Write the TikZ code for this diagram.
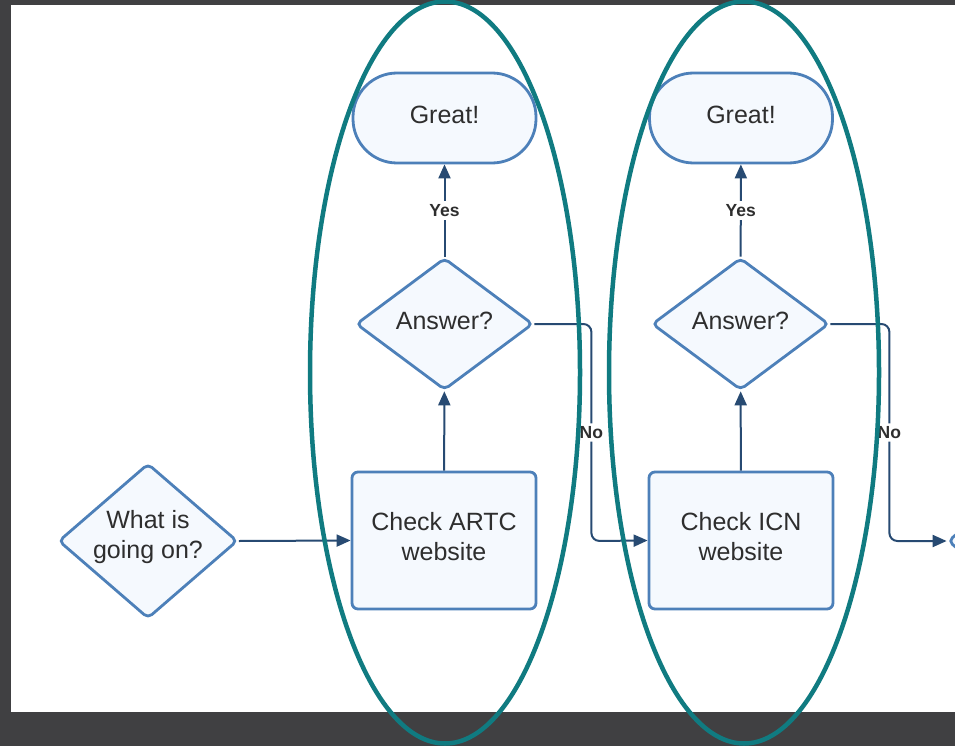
\documentclass[tikz,border=0pt]{standalone}
\usepackage{fontspec}
\setmainfont{Liberation Sans}
\usetikzlibrary{shapes.geometric,arrows.meta}
\definecolor{bgdark}{HTML}{404042}
\definecolor{shapefill}{HTML}{F5F9FE}
\definecolor{shapeline}{HTML}{4D80B9}
\definecolor{arrowcol}{HTML}{274A72}
\definecolor{txt}{HTML}{2E2E2E}
\definecolor{tealring}{HTML}{107B81}
\tikzset{
  shp/.style={draw=shapeline, fill=shapefill, line width=2.8pt, inner sep=0pt},
  dia/.style={shp, shape=diamond, rounded corners=5pt},
  whatsize/.style={minimum width=179pt, minimum height=155pt},
  anssize/.style={minimum width=177pt, minimum height=132pt},
  boxnode/.style={shp, rectangle, rounded corners=6pt, minimum width=184pt, minimum height=137pt},
  term/.style={shp, rectangle, rounded corners=44pt, minimum width=183pt, minimum height=90pt},
  txtnode/.style={text=txt, align=center, inner sep=0pt, font=\fontsize{25}{30}\selectfont},
  arr/.style={draw=arrowcol, line width=2pt, -{Triangle[length=14pt,width=12pt]}},
  lbl/.style={fill=white, text=txt, font=\fontsize{17.5}{20}\selectfont\bfseries, inner sep=3pt},
  ring/.style={draw=tealring, line width=4.5pt}
}
\begin{document}
\begin{tikzpicture}[x=1pt,y=-1pt]
\fill[bgdark] (0,0) rectangle (955,746);
\useasboundingbox (0,0) rectangle (955,746);
\clip (0,0) rectangle (955,746);
\fill[white] (11,5) rectangle (955,712);

% first column
\node[dia, whatsize] (what) at (148,541) {};
\node[boxnode] (artc) at (444,540.5) {};
\node[dia, anssize] (ans1) at (444.5,324) {};
\node[term] (great1) at (444.5,118) {};

% second column
\node[boxnode] (icn) at (741,540.5) {};
\node[dia, anssize] (ans2) at (740.5,324) {};
\node[term] (great2) at (741,118) {};

% partial next shape
\node[dia, whatsize] (next) at (1037.5,541) {};

% texts
\node[txtnode] (what-t) at ([yshift=4pt]what.center) {What is\\going on?};
\node[txtnode] (artc-t) at ([yshift=3.5pt]artc.center) {Check ARTC\\website};
\node[txtnode] (ans1-t) at ([yshift=3.5pt]ans1.center) {Answer?};
\node[txtnode] (great1-t) at ([yshift=3pt]great1.center) {Great!};
\node[txtnode] (icn-t) at ([yshift=3.5pt]icn.center) {Check ICN\\website};
\node[txtnode] (ans2-t) at ([yshift=3.5pt]ans2.center) {Answer?};
\node[txtnode] (great2-t) at ([yshift=3pt]great2.center) {Great!};

% connectors
\draw[arr] (what.east) -- (artc.west);
\draw[arr] (artc) -- (ans1);
\draw[arr] (ans1) -- node[lbl]{Yes} (great1);
\draw[arr, rounded corners=8pt] (ans1.east) -- ++(57,0) -- node[lbl]{No} ++(0,217) -- (icn.west);

\draw[arr] (icn) -- (ans2);
\draw[arr] (ans2) -- node[lbl]{Yes} (great2);
\draw[arr, rounded corners=8pt] (ans2.east) -- ++(59,0) -- node[lbl]{No} ++(0,217) -- (next.west);

% grouping ellipses
\draw[ring] (445,372.5) ellipse [x radius=135, y radius=371];
\draw[ring] (744,372.5) ellipse [x radius=135, y radius=371];
\end{tikzpicture}
\end{document}
